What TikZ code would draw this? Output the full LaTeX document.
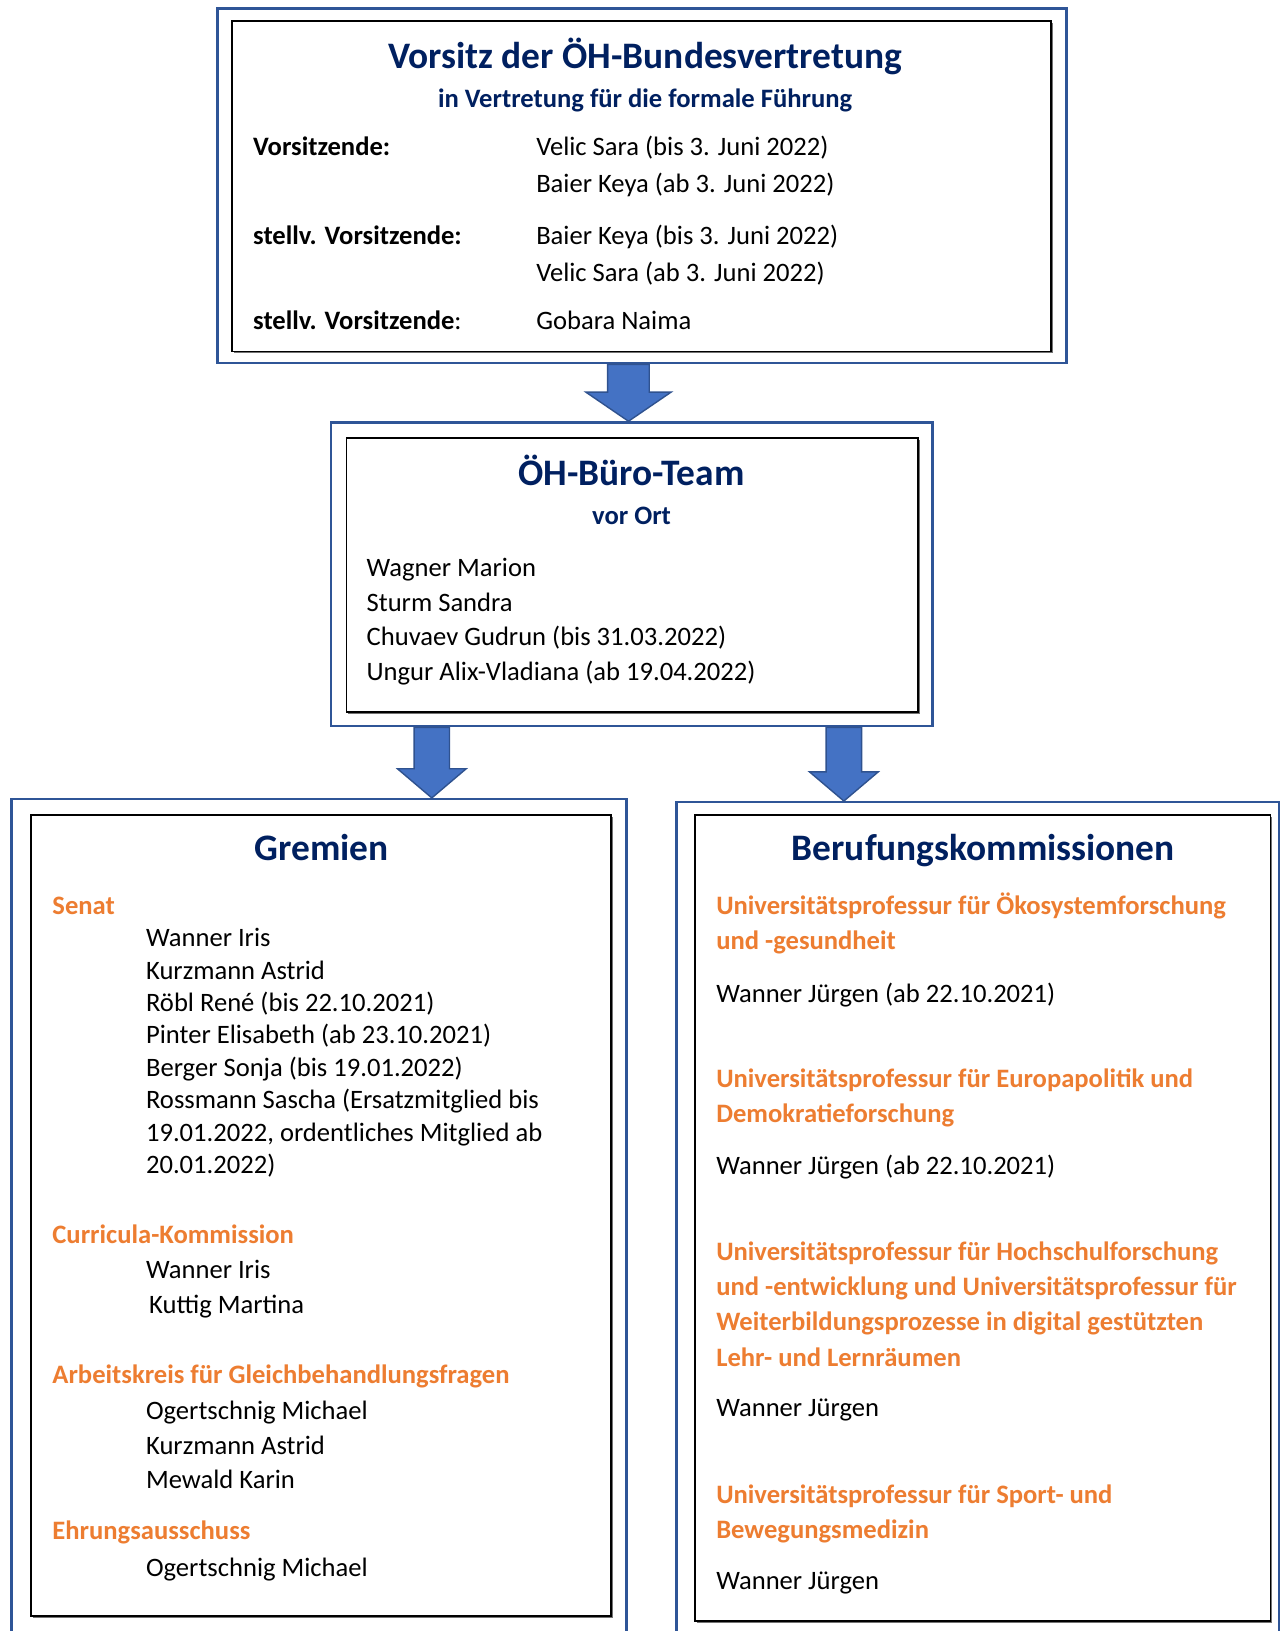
\documentclass[tikz,border=0pt]{standalone}
\usepackage{fontspec}
\setmainfont{Carlito}
\usetikzlibrary{calc,fit,shadows}

\definecolor{navy}{HTML}{002060}
\definecolor{orangehead}{HTML}{ED7D31}
\definecolor{frameblue}{HTML}{2F5597}
\definecolor{arrowfill}{HTML}{4472C4}
\definecolor{arrowline}{HTML}{2F528F}

% block arrow: #1 top of shaft, #2 tip, #3 half shaft width, #4 half head width
\newcommand{\blockarrow}[4]{%
  \filldraw[blockarr] ($(#1)+(-#3,0)$) -- ($(#1)+(#3,0)$) -- ($(#2)+(#3,-28)$)
    -- ($(#2)+(#4,-28)$) -- (#2) -- ($(#2)+(-#4,-28)$) -- ($(#2)+(-#3,-28)$) -- cycle;}

\begin{document}
\begin{tikzpicture}[x=0.5203pt, y=-0.5203pt,
  outerframe/.style={draw=frameblue, line width=1.2pt, inner sep=0pt},
  innerframe/.style={draw=black, line width=0.8pt, fill=white, inner sep=0pt,
    drop shadow={shadow xshift=0.9pt, shadow yshift=-0.9pt, fill=black!55, opacity=1}},
  blockarr/.style={fill=arrowfill, draw=arrowline, line width=0.7pt},
  boxtitle/.style={anchor=base, inner sep=0pt, text=navy, font=\fontsize{18.7}{22}\selectfont\bfseries},
  subtitle/.style={anchor=base, inner sep=0pt, text=navy, font=\fontsize{13.3}{16}\selectfont\bfseries},
  person/.style={anchor=base west, inner sep=0pt, font=\fontsize{13.3}{16}\selectfont},
  role/.style={person, font=\fontsize{13.3}{16}\selectfont\bfseries},
  committee/.style={role, text=orangehead}]

  % page size
  \useasboundingbox (0,0) rectangle (1232,1567.5);
  \clip (0,0) rectangle (1232,1567.5);

  % The frames
  \node[outerframe, fit={(209,8) (1025,349)}] (vorsitz) {};
  \node[innerframe, fit={(223,20) (1010,338)}] (vorsitzIn) {};
  \node[outerframe, fit={(318,406) (896,698)}] (buero) {};
  \node[innerframe, fit={(333,421) (882,684)}] (bueroIn) {};
  \node[outerframe, fit={(11,768) (602,1680)}] (gremien) {};
  \node[innerframe, fit={(30,783) (587,1553)}] (gremienIn) {};
  \node[outerframe, fit={(650,771) (1229,1680)}] (berufung) {};
  \node[innerframe, fit={(668,783) (1221,1558)}] (berufungIn) {};

  % The arrows
  \coordinate (axA) at (604,0);
  \coordinate (axB) at (415,0);
  \coordinate (axC) at (811,0);
  \coordinate (a1) at (vorsitz.south -| axA);
  \coordinate (t1) at (buero.north -| axA);
  \coordinate (a2) at (buero.south -| axB);
  \coordinate (t2) at (gremien.north -| axB);
  \coordinate (a3) at (buero.south -| axC);
  \coordinate (t3) at (berufung.north -| axC);
  \blockarrow{a1}{t1}{20}{41}
  \blockarrow{a2}{t2}{17}{33}
  \blockarrow{a3}{t3}{17}{33}

  % Vorsitz
  \node[boxtitle] (vorsitzTitle) at (620,66) {Vorsitz der ÖH-Bundesvertretung};
  \node[subtitle] (vorsitzSub) at (620,103) {in Vertretung für die formale Führung};
  \node[role] (roleA) at (243,149) {Vorsitzende:};
  \node[person] (nameA1) at (515,149) {Velic Sara (bis 3. Juni 2022)};
  \node[person] (nameA2) at (515,185) {Baier Keya (ab 3. Juni 2022)};
  \node[role] (roleB) at (243,235) {stellv. Vorsitzende:};
  \node[person] (nameB1) at (515,235) {Baier Keya (bis 3. Juni 2022)};
  \node[person] (nameB2) at (515,271) {Velic Sara (ab 3. Juni 2022)};
  \node[role] (roleC) at (243,317) {stellv. Vorsitzende\mdseries:};
  \node[person] (nameC1) at (515,317) {Gobara Naima};

  % Buero-Team
  \node[boxtitle] (bueroTitle) at (607,467) {ÖH-Büro-Team};
  \node[subtitle] (bueroSub) at (607,504) {vor Ort};
  \foreach \name [count=\i from 0] in {Wagner Marion, Sturm Sandra,
      Chuvaev Gudrun (bis 31.03.2022), Ungur Alix-Vladiana (ab 19.04.2022)}
    \node[person] (team\i) at (352,{554+33.3*\i}) {\name};

  % Gremien
  \node[boxtitle] (gremienTitle) at (309,827) {Gremien};
  \node[committee] (senat) at (50,879) {Senat};
  \foreach \name [count=\i from 0] in {Wanner Iris, Kurzmann Astrid,
      Röbl René (bis 22.10.2021), Pinter Elisabeth (ab 23.10.2021),
      Berger Sonja (bis 19.01.2022), Rossmann Sascha (Ersatzmitglied bis,
      {19.01.2022, ordentliches Mitglied ab}, 20.01.2022)}
    \node[person] (senat\i) at (140,{910+31.1*\i}) {\name};
  \node[committee] (curricula) at (50,1195) {Curricula-Kommission};
  \node[person] (curricula0) at (140,1229) {Wanner Iris};
  \node[person] (curricula1) at (143,1262) {Kuttig Martina};
  \node[committee] (akgl) at (50,1330) {Arbeitskreis für Gleichbehandlungsfragen};
  \foreach \name [count=\i from 0] in {Ogertschnig Michael, Kurzmann Astrid, Mewald Karin}
    \node[person] (akgl\i) at (140,{1364+33.5*\i}) {\name};
  \node[committee] (ehrung) at (50,1480) {Ehrungsausschuss};
  \node[person] (ehrung0) at (140,1515) {Ogertschnig Michael};

  % Berufungskommissionen
  \node[boxtitle] (berufungTitle) at (945,827) {Berufungskommissionen};
  \node[committee] (profA1) at (688,879) {Universitätsprofessur für Ökosystemforschung};
  \node[committee] (profA2) at (688,913) {und -gesundheit};
  \node[person] (profA0) at (688,963) {Wanner Jürgen (ab 22.10.2021)};
  \node[committee] (profB1) at (688,1045) {Universitätsprofessur für Europapolitik und};
  \node[committee] (profB2) at (688,1079) {Demokratieforschung};
  \node[person] (profB0) at (688,1129) {Wanner Jürgen (ab 22.10.2021)};
  \foreach \line [count=\i from 1] in {Universitätsprofessur für Hochschulforschung,
      und -entwicklung und Universitätsprofessur für,
      Weiterbildungsprozesse in digital gestützten, Lehr- und Lernräumen}
    \node[committee] (profC\i) at (688,{1211+34*(\i-1)}) {\line};
  \node[person] (profC0) at (688,1361) {Wanner Jürgen};
  \node[committee] (profD1) at (688,1445) {Universitätsprofessur für Sport- und};
  \node[committee] (profD2) at (688,1479) {Bewegungsmedizin};
  \node[person] (profD0) at (688,1528) {Wanner Jürgen};
\end{tikzpicture}
\end{document}
